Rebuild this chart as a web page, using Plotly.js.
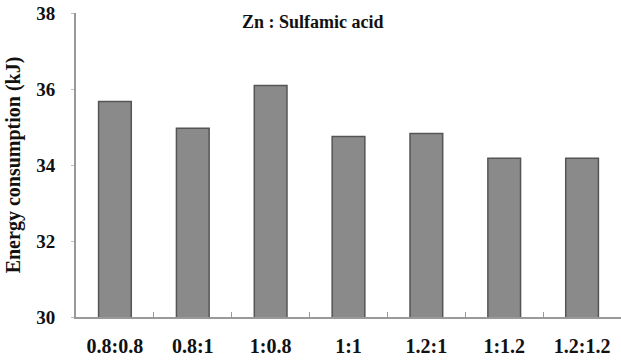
<!DOCTYPE html>
<html>
<head>
<meta charset="utf-8">
<script src="https://cdn.plot.ly/plotly-3.0.1.min.js"></script>
<style>html,body{margin:0;padding:0;background:#fff;}#chart{width:621px;height:361px;}</style>
</head>
<body>
<div id="chart"></div>
<script>
const categories = ["0.8:0.8", "0.8:1", "1:0.8", "1:1", "1.2:1", "1:1.2", "1.2:1.2"];
const energy = [35.67, 34.97, 36.09, 34.75, 34.83, 34.18, 34.18];
const yTicks = [30, 32, 34, 36, 38];
const chartTitle = "Zn : Sulfamic acid";
const yTitle = "Energy consumption (kJ)";

const fontFam = "Liberation Serif, Times New Roman, serif";
Plotly.newPlot("chart", [{
  type: "bar",
  x: categories,
  y: energy,
  width: 0.42,
  marker: {color: "#8a8a8a", line: {color: "#555555", width: 1.5}},
  hoverinfo: "skip"
}], {
  width: 621, height: 361,
  margin: {l: 76, r: 0, t: 13, b: 44},
  paper_bgcolor: "#fff", plot_bgcolor: "#fff",
  showlegend: false,
  font: {family: fontFam},
  annotations: [{
    text: "<b>" + chartTitle + "</b>", xref: "paper", yref: "paper",
    x: 0.435, y: 0.97, xanchor: "center", yanchor: "middle", showarrow: false,
    font: {family: fontFam, size: 18, color: "#111"}
  }],
  xaxis: {
    type: "category",
    showline: true, linecolor: "#999", linewidth: 2,
    ticks: "inside", tickson: "boundaries", ticklen: 5, tickcolor: "#999", tickwidth: 1,
    showgrid: false, zeroline: false,
    tickfont: {family: fontFam, size: 20, color: "#111", weight: "bold"},
    ticklabelstandoff: 10
  },
  yaxis: {
    range: [30, 38], tickvals: yTicks, ticktext: yTicks.map(String),
    showline: true, linecolor: "#999", linewidth: 2,
    ticks: "outside", ticklen: 3, tickcolor: "#bbb",
    showgrid: false, zeroline: false,
    tickfont: {family: fontFam, size: 19, color: "#111", weight: "bold"},
    ticklabelstandoff: 12,
    title: {text: "<b>" + yTitle + "</b>", font: {family: fontFam, size: 20, color: "#111"}, standoff: 10}
  }
}, {staticPlot: true});
</script>
</body>
</html>
